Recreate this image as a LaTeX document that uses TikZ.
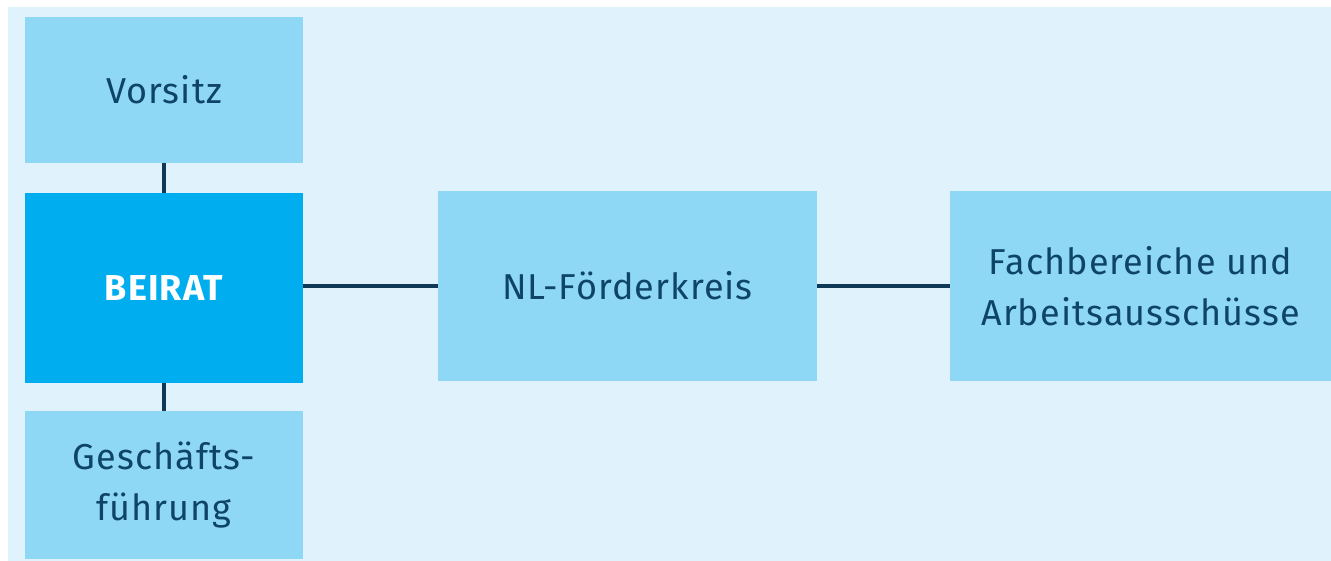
\documentclass[tikz,border=0pt]{standalone}
\usepackage{fontspec}
\setmainfont{Fira Sans}[LetterSpace=3]
\definecolor{bgc}{HTML}{E0F3FC}
\definecolor{boxc}{HTML}{8ED8F6}
\definecolor{mainc}{HTML}{00AEEF}
\definecolor{txtc}{HTML}{0E4468}
\definecolor{linec}{HTML}{0F3A57}
\tikzset{
  unit/.style={x=1pt,y=-1pt},
  orgbox/.style={fill=boxc, draw=none, inner sep=0pt, align=center, text=txtc,
    font=\fontsize{36}{51}\selectfont},
  mainbox/.style={orgbox, fill=mainc, text=white, font=\fontsize{36}{51}\selectfont\bfseries},
  conn/.style={draw=linec, line width=4pt}
}
\begin{document}
\begin{tikzpicture}[unit]
\useasboundingbox (0,0) rectangle (1331,561);
\fill[bgc] (8,7) rectangle (1331,561);
\node[orgbox, minimum width=278pt, minimum height=146pt] (vors) at (164,90) {Vorsitz};
\node[mainbox, minimum width=278pt, minimum height=190pt] (beirat) at (164,288) {BEIRAT};
\node[orgbox, minimum width=278pt, minimum height=148pt] (gf) at (164,485) {Geschäfts-\\führung};
\node[orgbox, minimum width=379pt, minimum height=190pt] (nl) at (627.5,286) {NL-Förderkreis};
\node[orgbox, minimum width=381pt, minimum height=190pt] (fach) at (1140.5,286) {Fachbereiche und\\Arbeitsausschüsse};
\draw[conn] (vors.south) -- (beirat.north);
\draw[conn] (beirat.south) -- (gf.north);
\draw[conn] (beirat.east |- nl.west) -- (nl.west);
\draw[conn] (nl.east) -- (fach.west);
\end{tikzpicture}
\end{document}
